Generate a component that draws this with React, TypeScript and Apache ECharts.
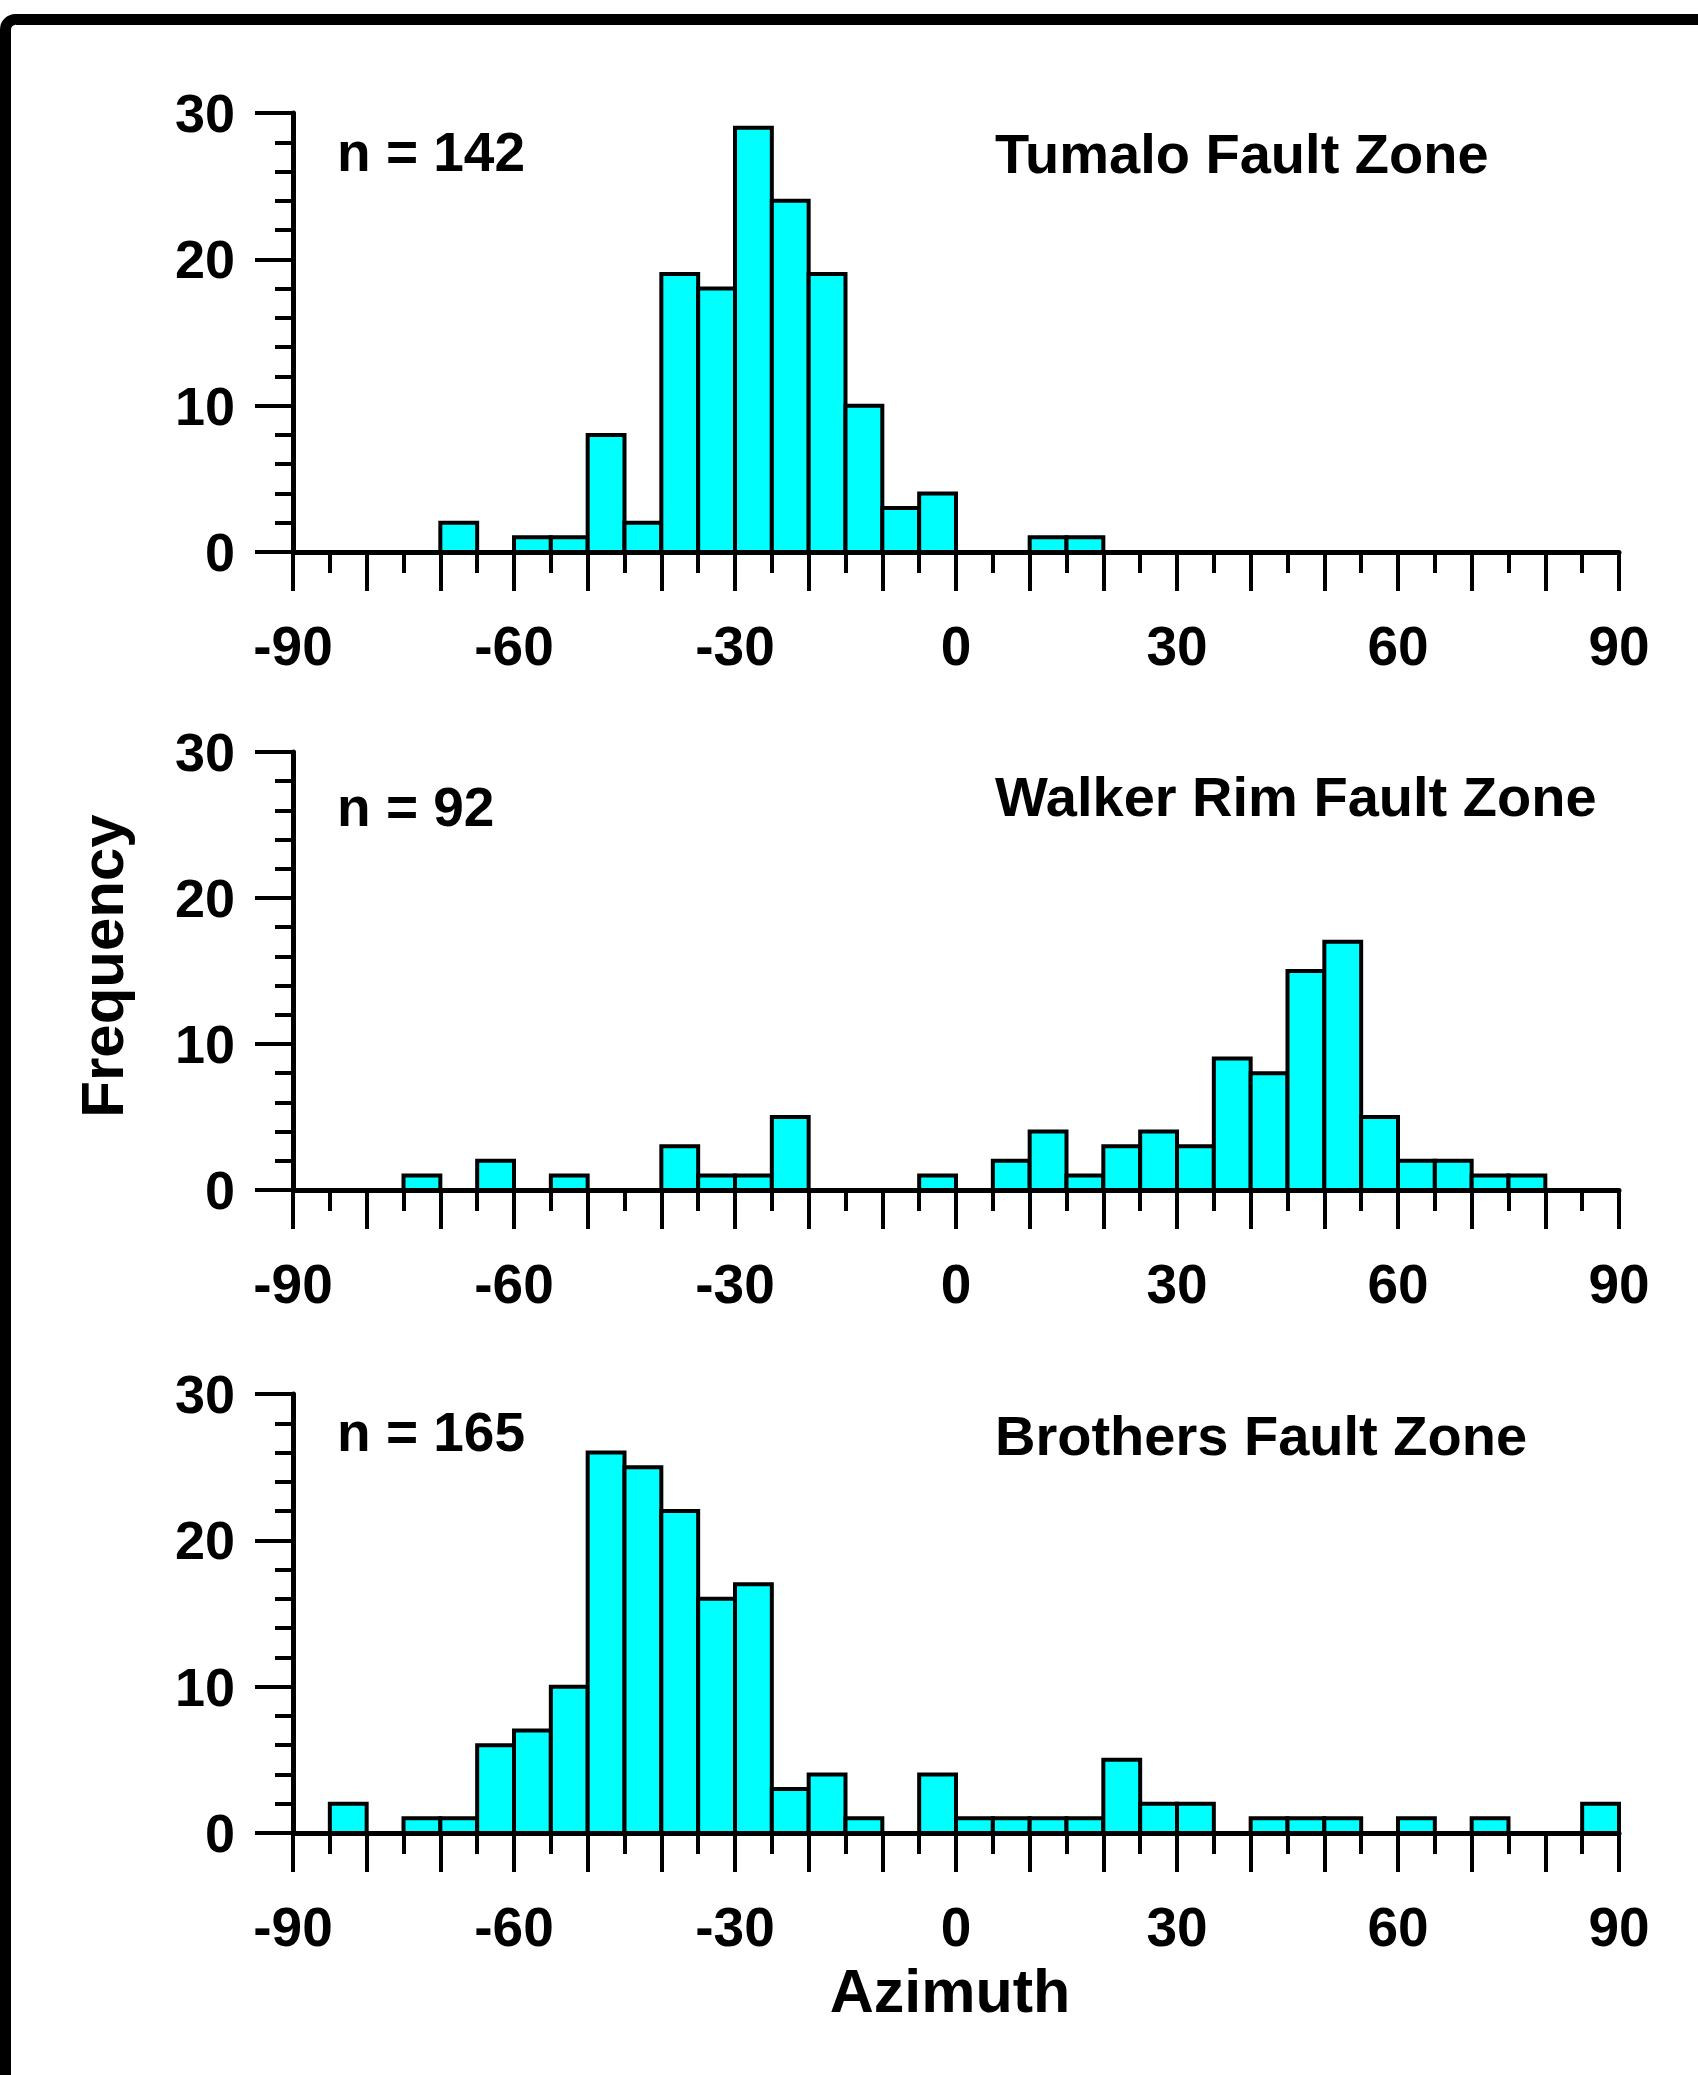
import React, { useEffect, useRef } from "react";
import * as echarts from "echarts";

// Bin starts (degrees), each bin is 5 degrees wide
const binStarts = [
  -90, -85, -80, -75, -70, -65, -60, -55, -50, -45, -40, -35,
  -30, -25, -20, -15, -10, -5, 0, 5, 10, 15, 20, 25,
  30, 35, 40, 45, 50, 55, 60, 65, 70, 75, 80, 85,
];
const binWidth = 5;

const tumalo = [
  0, 0, 0, 0, 2, 0, 1, 1, 8, 2, 19, 18,
  29, 24, 19, 10, 3, 4, 0, 0, 1, 1, 0, 0,
  0, 0, 0, 0, 0, 0, 0, 0, 0, 0, 0, 0,
];
const walkerRim = [
  0, 0, 0, 1, 0, 2, 0, 1, 0, 0, 3, 1,
  1, 5, 0, 0, 0, 1, 0, 2, 4, 1, 3, 4,
  3, 9, 8, 15, 17, 5, 2, 2, 1, 1, 0, 0,
];
const brothers = [
  0, 2, 0, 1, 1, 6, 7, 10, 26, 25, 22, 16,
  17, 3, 4, 1, 0, 4, 1, 1, 1, 1, 5, 2,
  2, 0, 1, 1, 1, 0, 1, 0, 1, 0, 0, 2,
];

const panelTitles = ["Tumalo Fault Zone", "Walker Rim Fault Zone", "Brothers Fault Zone"];
const panelCounts = ["n = 142", "n = 92", "n = 165"];
const xTickLabels = [-90, -60, -30, 0, 30, 60, 90];
const yAxisName = "Frequency";
const xAxisName = "Azimuth";

const FONT = '"Liberation Sans", Arial, Helvetica, sans-serif';

export default function App() {
  const ref = useRef<HTMLDivElement>(null);

  useEffect(() => {
    if (!ref.current) return;
    const chart = echarts.init(ref.current, undefined, { renderer: "svg" });

    const seriesData = [tumalo, walkerRim, brothers];
    const gridTops = [113, 752, 1394];
    const gridHeights = [439, 438, 439];
    const titleY = [153, 796, 1435];
    const countY = [152, 807, 1432];

    const grids = gridTops.map((t, i) => ({
      left: 293,
      top: t,
      width: 1326,
      height: gridHeights[i],
      containLabel: false,
    }));

    const xAxes = grids.map((_, i) => ({
      type: "value",
      gridIndex: i,
      min: -90,
      max: 90,
      interval: 10,
      axisLine: { show: true, onZero: false, lineStyle: { color: "#000", width: 5 } },
      axisTick: { show: true, inside: false, length: 39, lineStyle: { color: "#000", width: 4 } },
      minorTick: { show: true, splitNumber: 2, length: 21, lineStyle: { color: "#000", width: 4 } },
      splitLine: { show: false },
      minorSplitLine: { show: false },
      axisLabel: {
        show: true,
        margin: 66,
        color: "#000",
        fontFamily: FONT,
        fontWeight: "bold",
        fontSize: 55,
        formatter: (v: number) => (xTickLabels.indexOf(v) >= 0 ? String(v) : ""),
      },
    }));

    const yAxes = grids.map((_, i) => ({
      type: "value",
      gridIndex: i,
      min: 0,
      max: 30,
      interval: 10,
      axisLine: { show: true, onZero: false, lineStyle: { color: "#000", width: 5 } },
      axisTick: { show: true, inside: false, length: 38, lineStyle: { color: "#000", width: 4 } },
      minorTick: { show: true, splitNumber: 5, length: 18, lineStyle: { color: "#000", width: 4 } },
      splitLine: { show: false },
      minorSplitLine: { show: false },
      axisLabel: {
        show: true,
        margin: 58,
        color: "#000",
        fontFamily: FONT,
        fontWeight: "bold",
        fontSize: 54,
      },
    }));

    const series = seriesData.map((vals, i) => ({
      type: "custom",
      xAxisIndex: i,
      yAxisIndex: i,
      data: binStarts
        .map((b, k) => [b, vals[k]])
        .filter((d) => d[1] > 0),
      renderItem: (params: any, api: any) => {
        const x0 = api.value(0);
        const y = api.value(1);
        const p0 = api.coord([x0, y]);
        const p1 = api.coord([x0 + binWidth, 0]);
        return {
          type: "rect",
          shape: { x: p0[0], y: p0[1], width: p1[0] - p0[0], height: p1[1] - p0[1] },
          style: { fill: "#00FFFF", stroke: "#000", lineWidth: 4 },
        };
      },
      z: 1,
    }));

    const texts: any[] = [];
    for (let i = 0; i < 3; i++) {
      texts.push({
        type: "text",
        x: 337,
        y: countY[i],
        style: {
          text: panelCounts[i],
          fill: "#000",
          font: `bold 55px ${FONT}`,
          textAlign: "left",
          textVerticalAlign: "middle",
          align: "left",
          verticalAlign: "middle",
        },
      });
      texts.push({
        type: "text",
        x: 995,
        y: titleY[i],
        style: {
          text: panelTitles[i],
          fill: "#000",
          font: `bold 56px ${FONT}`,
          textAlign: "left",
          textVerticalAlign: "middle",
          align: "left",
          verticalAlign: "middle",
        },
      });
    }
    texts.push({
      type: "text",
      x: 102,
      y: 966,
      rotation: Math.PI / 2,
      style: {
        text: yAxisName,
        fill: "#000",
        font: `bold 60px ${FONT}`,
        textAlign: "center",
        textVerticalAlign: "middle",
        align: "center",
        verticalAlign: "middle",
      },
    });
    texts.push({
      type: "text",
      x: 950,
      y: 1991,
      style: {
        text: xAxisName,
        fill: "#000",
        font: `bold 61px ${FONT}`,
        textAlign: "center",
        textVerticalAlign: "middle",
        align: "center",
        verticalAlign: "middle",
      },
    });

    chart.setOption({
      animation: false,
      backgroundColor: "#fff",
      grid: grids,
      xAxis: xAxes,
      yAxis: yAxes,
      series,
      graphic: [
        {
          type: "rect",
          shape: { x: 5.5, y: 19.5, width: 2400, height: 3000, r: 10 },
          style: { fill: "none", stroke: "#000", lineWidth: 11 },
          z: 10,
        },
        ...texts,
      ],
    });

    return () => chart.dispose();
  }, []);

  return (
    <div
      ref={ref}
      style={{ position: "absolute", left: 0, top: 0, width: 1698, height: 2075 }}
    />
  );
}
